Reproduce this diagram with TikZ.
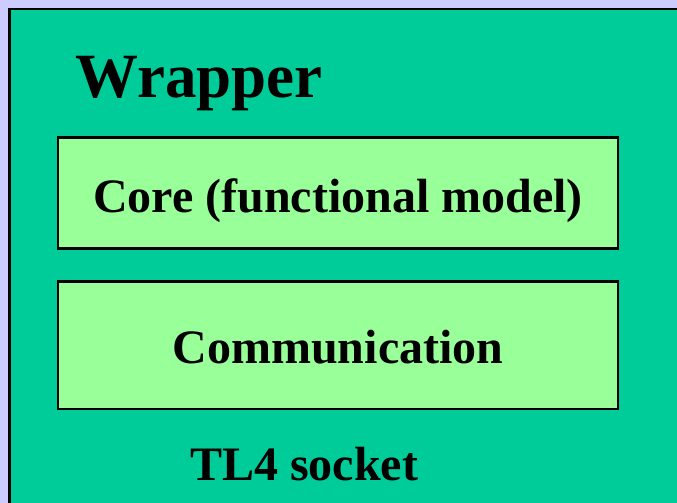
\documentclass[tikz,border=0pt]{standalone}
\usepackage{fontspec}
\setmainfont{Liberation Serif}
\definecolor{pagebg}{HTML}{CCCCFF}
\definecolor{wrapgreen}{HTML}{00CC99}
\definecolor{boxgreen}{HTML}{99FF99}
\begin{document}
\begin{tikzpicture}[x=1pt,y=-1pt,
  layerbox/.style={draw=black,line width=2.5pt,fill=boxgreen},
  label48/.style={inner sep=0pt,font=\fontsize{48}{48}\selectfont\bfseries}]
  % page background
  \fill[pagebg] (0,0) rectangle (677,503);
  \useasboundingbox (0,0) rectangle (677,503);
  % wrapper area, running off the right and bottom edges
  \filldraw[fill=wrapgreen,draw=black,line width=2.5pt] (9.5,9) rectangle (690,520);
  \node[inner sep=0pt,anchor=base west,font=\fontsize{63}{63}\selectfont\bfseries] (wrap) at (75,97) {Wrapper};
  % inner layers
  \draw[layerbox] (58,137.5) rectangle (618,248.5) coordinate (coreSE);
  \node[label48,anchor=base] (core) at (338,212) {Core (functional model)};
  \draw[layerbox] (58,281.5) rectangle (618,409) coordinate (commSE);
  \node[label48,anchor=base] (comm) at (338,363) {Communication};
  \node[label48,anchor=base west] (sock) at (190,480) {TL4 socket};
\end{tikzpicture}
\end{document}
